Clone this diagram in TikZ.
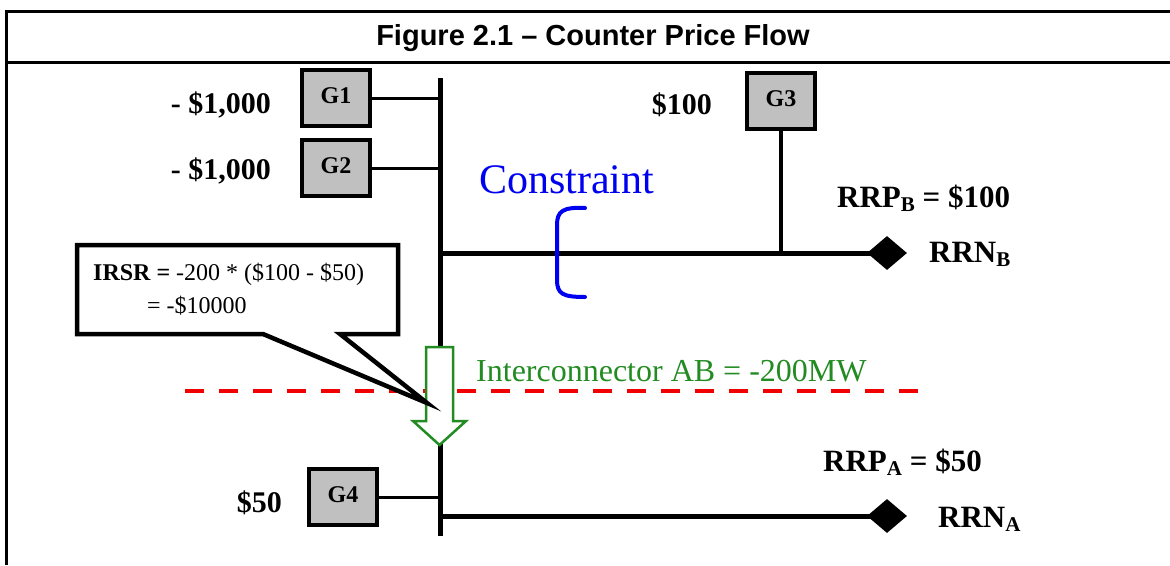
\documentclass[tikz,border=0pt]{standalone}
\usepackage{fontspec}
\setmainfont{Liberation Serif}
\newfontfamily\titlefont{Liberation Sans}
\usetikzlibrary{shapes.geometric}
\definecolor{boxgray}{RGB}{192,192,192}
\definecolor{icgreen}{RGB}{34,139,34}
\definecolor{conblue}{RGB}{0,0,240}
\definecolor{cutred}{RGB}{240,0,0}
\newcommand{\fs}[1]{\fontsize{#1}{#1}\selectfont}
\newcommand{\sbx}[1]{\raisebox{-4.5pt}{\fs{21}#1}}
\begin{document}
\begin{tikzpicture}[x=1pt,y=-1pt,
  genbox/.style={draw, line width=4pt, fill=boxgray, minimum width=68pt, minimum height=56pt,
     inner sep=0pt, text height=17pt, text depth=6pt, font=\fs{24}\bfseries},
  lbl/.style={inner sep=0pt, font=\fs{30}\bfseries},
  rlbl/.style={inner sep=0pt, font=\fs{31}\bfseries},
  node/.style={diamond, fill=black, draw=none, minimum width=40pt, minimum height=34pt, inner sep=0pt},
  feeder/.style={line width=3pt},
  busline/.style={line width=5pt}
]
\useasboundingbox (0,0) rectangle (1170,565);
% frame
\draw[line width=3pt] (6,565) -- (6,11) -- (1172,11);
\draw[line width=3pt] (6,62) -- (1172,62);
\node[anchor=base, inner sep=0pt, font=\titlefont\bfseries\fs{29}] (title) at (593,45) {Figure 2.1 – Counter Price Flow};

% bus
\coordinate (bustop) at (440,78);
\coordinate (busbot) at (440,536);
\draw[busline] (bustop) -- (busbot);

% generators
\node[genbox] (g1) at (336,98) {G1};
\node[genbox] (g2) at (336,168) {G2};
\node[genbox] (g3) at (781,101) {G3};
\node[genbox] (g4) at (343,497) {G4};

% nodes (diamonds)
\node[node] (rrnb) at (887,253) {};
\node[node] (rrna) at (887,516) {};

% connectors
\draw[feeder] (g1.east) -- (g1.east -| bustop);
\draw[feeder] (g2.east) -- (g2.east -| bustop);
\draw[feeder] (g4.east) -- (g4.east -| bustop);
\draw[line width=4pt] (g3.south) -- (g3.south |- rrnb);
\draw[busline] (rrnb -| bustop) -- (rrnb.center);
\draw[busline] (rrna -| bustop) -- (rrna.center);

% price labels
\node[lbl, anchor=base east] (p1) at (271,113) {- \$1,000};
\node[lbl, anchor=base east] (p2) at (271,179) {- \$1,000};
\node[lbl, anchor=base east] (p3) at (712,114) {\$100};
\node[lbl, anchor=base east] (p4) at (282,512) {\$50};
\node[rlbl, anchor=base west] (rrpb) at (837,207) {RRP\sbx{B} = \$100};
\node[rlbl, anchor=base west] (rrnbl) at (929,262) {RRN\sbx{B}};
\node[rlbl, anchor=base west] (rrpa) at (823,471) {RRP\sbx{A} = \$50};
\node[rlbl, anchor=base west] (rrnal) at (938,527) {RRN\sbx{A}};

% constraint
\node[anchor=base west, inner sep=0pt, text=conblue, font=\fs{42}] (con) at (479,193) {Constraint};
\draw[conblue, line width=4pt, line cap=round] (585,208) .. controls (563,207) and (557,211) .. (557,225)
  -- (557,280) .. controls (557,294) and (563,297) .. (585,297);

% cut line
\draw[cutred, line width=4.5pt, dash pattern=on 19pt off 15pt] (185,391) -- (919,391);

% interconnector arrow
\draw[icgreen, line width=2.5pt, fill=white, line join=miter]
  (426,347) -- (453,347) -- (453,421) -- (466,421) -- (439.5,445) -- (413,421) -- (426,421) -- cycle;
\node[anchor=base west, inner sep=0pt, text=icgreen, font=\fs{32}] (ic) at (476,381) {Interconnector AB = -200MW};

% callout
\draw[line width=4.5pt, fill=white, line join=miter]
  (77,245) -- (398,245) -- (398,334) -- (340,334) -- (427,403) -- (263,334) -- (77,334) -- cycle;
\node[anchor=base west, inner sep=0pt, font=\fs{24}] (irsr) at (93,280) {\textbf{IRSR =} -200 * (\$100 - \$50)};
\node[anchor=base west, inner sep=0pt, font=\fs{24}] (irsr2) at (147,313) {= -\$10000};
\end{tikzpicture}
\end{document}
